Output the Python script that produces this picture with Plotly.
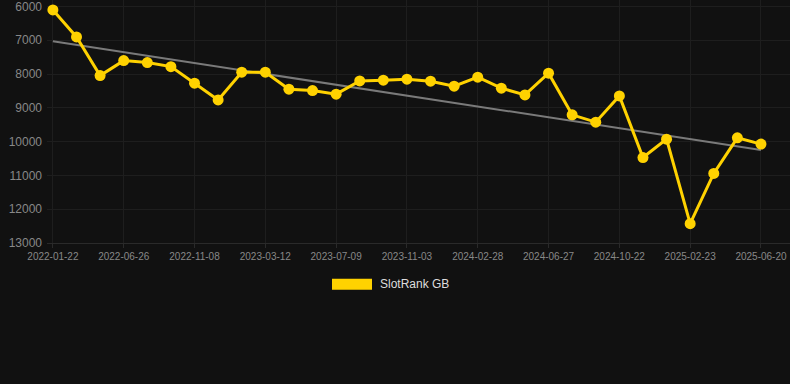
import numpy as np
import plotly.graph_objects as go

dates = [
    "2022-01-22", "2022-03-15", "2022-05-06",
    "2022-06-26", "2022-08-10", "2022-09-24",
    "2022-11-08", "2022-12-19", "2023-01-29",
    "2023-03-12", "2023-04-21", "2023-05-31",
    "2023-07-09", "2023-08-17", "2023-09-25",
    "2023-11-03", "2023-12-12", "2024-01-20",
    "2024-02-28", "2024-04-08", "2024-05-18",
    "2024-06-27", "2024-08-04", "2024-09-12",
    "2024-10-22", "2024-12-02", "2025-01-12",
    "2025-02-23", "2025-04-03", "2025-05-12",
    "2025-06-20",
]
rank = [
    6103, 6902, 8045, 7602, 7661, 7780, 8270, 8764, 7945, 7945,
    8448, 8489, 8595, 8202, 8181, 8152, 8211, 8359, 8093, 8418,
    8616, 7975, 9207, 9423, 8646, 10470, 9926, 12429, 10942, 9887,
    10073,
]
series_name = "SlotRank GB"
y_ticks = [6000, 7000, 8000, 9000, 10000, 11000, 12000, 13000]
x_tick_labels = dates[::3]

idx = np.arange(len(rank))
slope, intercept = np.polyfit(idx, rank, 1)
trend = slope * idx + intercept

GOLD = "#FFD200"
fig = go.Figure()
fig.add_trace(go.Scatter(
    x=dates, y=trend, mode="lines",
    line=dict(color="#7a7a7a", width=2),
    showlegend=False, hoverinfo="skip",
))
fig.add_trace(go.Scatter(
    x=dates, y=rank, mode="lines+markers", name=series_name,
    line=dict(color=GOLD, width=3),
    marker=dict(color=GOLD, size=11),
    showlegend=False, cliponaxis=False,
))

fig.update_layout(
    width=790, height=384,
    paper_bgcolor="#111111", plot_bgcolor="#111111",
    margin=dict(l=47, r=0, t=0, b=141),
    font=dict(family="Liberation Sans, Arial, sans-serif", color="#8a8a8a"),
    xaxis=dict(
        type="category", range=[-0.25, 31.23],
        tickmode="array", tickvals=x_tick_labels, ticktext=x_tick_labels,
        tickangle=0, ticklabeloverflow="allow",
        showgrid=True, gridcolor="#1e1e1e", gridwidth=1,
        zeroline=False, showline=True, linecolor="#2a2a2a",
        ticks="outside", ticklen=4, tickcolor="#2a2a2a",
        tickfont=dict(size=10, color="#888888"),
    ),
    yaxis=dict(
        range=[13000, 5808],
        tickmode="array", tickvals=y_ticks, tickformat="d",
        ticklabeloverflow="allow",
        showgrid=True, gridcolor="#1e1e1e", gridwidth=1,
        zeroline=False, showline=False,
        ticks="", ticklabelstandoff=4,
        tickfont=dict(size=12, color="#888888"),
    ),
    shapes=[dict(
        type="rect", xref="paper", yref="paper",
        x0=(332 - 47) / 743, x1=(372 - 47) / 743,
        y0=-(279 - 243.3) / 243.3, y1=-(290 - 243.3) / 243.3,
        fillcolor=GOLD, line=dict(width=0),
    )],
    annotations=[dict(
        text=series_name, xref="paper", yref="paper",
        x=(378 - 47) / 743, y=-(284.5 - 243.3) / 243.3,
        xanchor="left", yanchor="middle", showarrow=False,
        font=dict(size=12, color="#dddddd"),
    )],
)

fig.write_html(
    "out.html",
    config={"displayModeBar": False},
    post_script="document.body.style.margin='0';document.body.style.background='#111111';",
)
